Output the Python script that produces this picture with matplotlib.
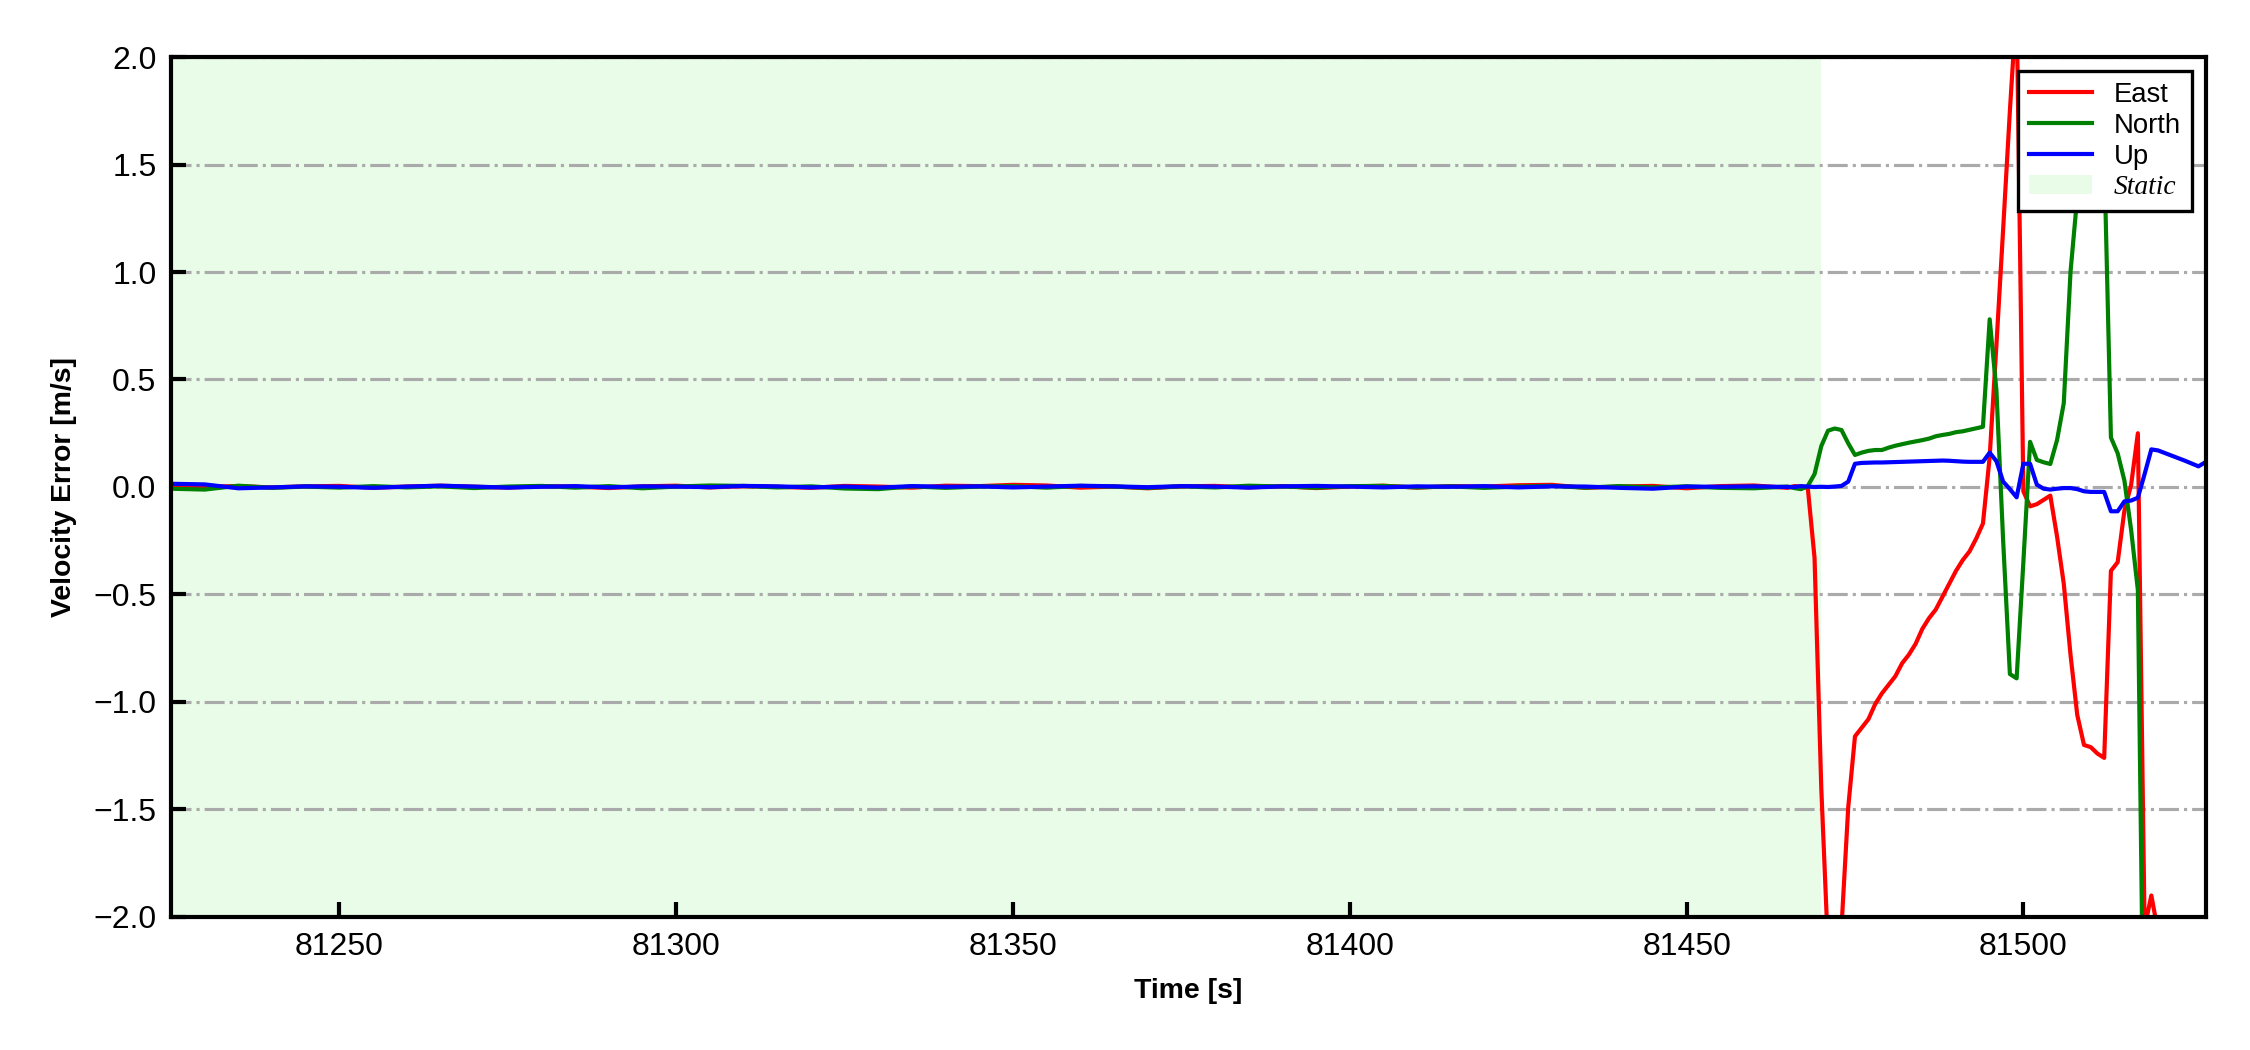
import numpy as np
import matplotlib
matplotlib.use("Agg")
import matplotlib.pyplot as plt

plt.rcParams['font.family'] = ['Liberation Sans', 'DejaVu Sans']

# sample times [s]: 5 s steps while static, 1 s steps afterwards
time = np.r_[np.arange(81225, 81466, 5), np.arange(81466, 81528, 1)]

east = [
    0.000, 0.002, 0.004, -0.002, 0.003, 0.005, -0.004, 0.002, 0.006, 0.001,
    -0.003, 0.004, 0.002, -0.005, 0.003, 0.006, -0.002, 0.004, 0.001, -0.004,
    0.005, 0.002, -0.003, 0.006, 0.004, 0.010, 0.007, -0.003, 0.002, -0.006,
    0.003, 0.005, -0.002, 0.004, -0.005, 0.002, 0.006, -0.003, 0.004, 0.002,
    0.008, 0.010, -0.004, 0.002, 0.005, -0.006, 0.004, 0.007, -0.004,
    # dynamic part, 81466 ..
    0.004, 0.002, -0.005, -0.33, -1.40, -2.15, -2.60, -2.05, -1.49, -1.16,
    -1.12, -1.08, -1.01, -0.96, -0.92, -0.88, -0.82, -0.78, -0.73, -0.66,
    -0.61, -0.57, -0.51, -0.45, -0.39, -0.34, -0.30, -0.24, -0.17, 0.14,
    0.66, 1.20, 1.75, 2.25, -0.02, -0.09, -0.08, -0.06, -0.04, -0.23,
    -0.45, -0.78, -1.06, -1.20, -1.21, -1.24, -1.26, -0.39, -0.35, -0.11,
    0.01, 0.25, -2.05, -1.90, -2.07, -2.40, -2.70, -2.90, -3.10, -3.00,
    -3.20, -3.30,
]

north = [
    -0.008, -0.012, 0.006, -0.004, 0.002, -0.003, 0.004, -0.002, 0.003, -0.005,
    0.002, 0.005, -0.003, 0.004, -0.006, 0.002, 0.007, 0.005, -0.002, 0.003,
    -0.007, -0.010, 0.003, -0.004, 0.002, 0.004, -0.003, 0.005, 0.002, -0.004,
    0.003, -0.002, 0.006, 0.002, -0.003, 0.004, 0.005, -0.002, 0.003, -0.004,
    0.002, 0.005, -0.003, 0.004, -0.002, 0.003, -0.004, -0.006, 0.002,
    # dynamic part
    -0.005, -0.010, 0.005, 0.06, 0.19, 0.262, 0.272, 0.265, 0.203, 0.149,
    0.160, 0.168, 0.172, 0.172, 0.183, 0.192, 0.199, 0.206, 0.212, 0.218,
    0.225, 0.236, 0.242, 0.247, 0.255, 0.259, 0.266, 0.273, 0.280, 0.78,
    0.45, -0.25, -0.87, -0.89, -0.35, 0.21, 0.126, 0.115, 0.107, 0.218,
    0.39, 1.00, 1.35, 1.60, 1.75, 1.70, 1.55, 0.23, 0.157, 0.03,
    -0.20, -0.48, -3.00, -3.20, -3.40, -3.50, -3.60, -3.70, -3.80, -3.90,
    -4.00, -4.10,
]

up = [
    0.015, 0.012, -0.006, -0.002, 0.003, 0.001, -0.004, 0.002, 0.006, 0.002,
    -0.003, 0.001, 0.004, -0.002, 0.003, 0.002, -0.001, 0.005, 0.003, -0.002,
    0.002, -0.003, 0.004, 0.001, 0.003, -0.002, 0.002, 0.006, 0.003, -0.001,
    0.004, 0.002, -0.003, 0.003, 0.005, 0.002, -0.002, 0.003, 0.001, 0.004,
    -0.002, 0.003, 0.002, -0.004, -0.008, 0.002, 0.001, 0.003, 0.000,
    # dynamic part
    0.000, 0.004, 0.002, 0.000, 0.001, 0.000, 0.002, 0.005, 0.025, 0.108,
    0.112, 0.113, 0.114, 0.114, 0.115, 0.116, 0.117, 0.118, 0.119, 0.120,
    0.121, 0.122, 0.123, 0.122, 0.120, 0.118, 0.117, 0.117, 0.117, 0.160,
    0.120, 0.025, -0.010, -0.048, 0.108, 0.108, 0.011, -0.008, -0.012, -0.008,
    -0.005, -0.005, -0.010, -0.020, -0.023, -0.023, -0.023, -0.113, -0.113, -0.067,
    -0.063, -0.050, 0.060, 0.175, 0.170, 0.158, 0.146, 0.134, 0.122, 0.109,
    0.096, 0.115,
]

static_start, static_end = 81225, 81470

fig, ax = plt.subplots(figsize=(7.5, 3.5), dpi=300)
fig.subplots_adjust(left=0.076, right=0.9804, bottom=0.1267, top=0.9457)

ax.axvspan(static_start, static_end, facecolor='#e8fce8', edgecolor='none', label='Static')
ax.plot(time, east, color='red', lw=1.0, label='East')
ax.plot(time, north, color='green', lw=1.0, label='North')
ax.plot(time, up, color='blue', lw=1.0, label='Up')

ax.set_xlim(81225, 81527.1)
ax.set_ylim(-2.0, 2.0)
ax.set_yticks([-2.0, -1.5, -1.0, -0.5, 0.0, 0.5, 1.0, 1.5, 2.0])
ax.yaxis.grid(True, linestyle='-.', color='#aaaaaa', lw=0.75)

ax.tick_params(direction='in', labelsize=7.7, width=1.0, length=3.5)
for s in ax.spines.values():
    s.set_linewidth(1.0)

ax.set_xlabel('Time [s]', fontsize=6.8, fontweight='bold')
ax.set_ylabel('Velocity Error [m/s]', fontsize=6.8, fontweight='bold')

h, l = ax.get_legend_handles_labels()
# span first in handles -> put it last
h = h[1:] + h[:1]
l = l[1:] + l[:1]
leg = ax.legend(h, l, loc='upper right', fontsize=6.6, fancybox=False,
                edgecolor='black', framealpha=1, handlelength=2.3,
                labelspacing=0.18)
leg.get_frame().set_linewidth(0.8)
leg.get_texts()[3].set_fontproperties({'family': 'Liberation Serif', 'style': 'italic', 'size': 6.6})

fig.savefig('out.png', dpi=300)
